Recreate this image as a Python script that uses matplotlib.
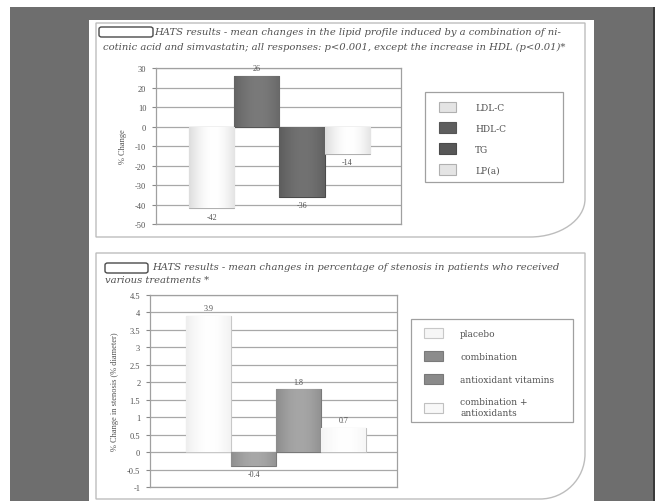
import numpy as np
import matplotlib
matplotlib.use("Agg")
import matplotlib.pyplot as plt
from matplotlib.patches import Rectangle, FancyBboxPatch, PathPatch
from matplotlib.path import Path
from matplotlib.colors import LinearSegmentedColormap

# lipid profile changes (%)
lipid_names = ["LDL-C", "HDL-C", "TG", "LP(a)"]
lipid_change = [-42, 26, -36, -14]
lipid_ticks = [30, 20, 10, 0, -10, -20, -30, -40, -50]

# stenosis changes (% diameter)
treat_names = ["placebo", "combination", "antioxidant vitamins", "combination +\nantioxidants"]
stenosis_change = [3.9, -0.4, 1.8, 0.7]
stenosis_ticks = [4.5, 4, 3.5, 3, 2.5, 2, 1.5, 1, 0.5, 0, -0.5, -1]

W, H = 661, 502
SERIF = ["Liberation Serif", "DejaVu Serif"]
plt.rcParams["font.family"] = SERIF

fig = plt.figure(figsize=(W / 100, H / 100), dpi=100)
fig.patch.set_facecolor("white")


def fx(x):
    return x / W


def fy(y):
    return 1 - y / H


def px_rect(x0, y0, x1, y1):
    return [fx(x0), fy(y1), (x1 - x0) / W, (y1 - y0) / H]


# dark scanner frame and the page
fig.add_artist(Rectangle((fx(10), 0), fx(653) - fx(10), fy(8), transform=fig.transFigure,
                         facecolor="#6e6e6e", edgecolor="none", zorder=0))
fig.add_artist(Rectangle((fx(653), 0), fx(2), fy(8), transform=fig.transFigure,
                         facecolor="#3a3a3a", edgecolor="none", zorder=0))
fig.add_artist(Rectangle((fx(89), 0), fx(594) - fx(89), fy(21), transform=fig.transFigure,
                         facecolor="white", edgecolor="none", zorder=0))


def panel(x0, y0, x1, y1, rx, ry):
    # box with only the lower right corner rounded
    k = 0.55
    verts = [(x0, y0), (x1, y0), (x1, y1 - ry),
             (x1, y1 - ry + k * ry), (x1 - rx + k * rx, y1), (x1 - rx, y1),
             (x0, y1), (x0, y0)]
    codes = [Path.MOVETO, Path.LINETO, Path.LINETO,
             Path.CURVE4, Path.CURVE4, Path.CURVE4,
             Path.LINETO, Path.CLOSEPOLY]
    verts = [(fx(a), fy(b)) for a, b in verts]
    fig.add_artist(PathPatch(Path(verts, codes), transform=fig.transFigure,
                             facecolor="none", edgecolor="#bdbdbd", lw=1.0, zorder=1))


panel(96, 24, 585, 238, 55, 38)
panel(96, 254, 585, 500, 45, 45)


def caption(bx0, bx1, by, lines, starts, ys):
    fig.add_artist(FancyBboxPatch((fx(bx0), fy(by + 5)), (bx1 - bx0) / W, 10 / H,
                                  boxstyle="round,pad=0,rounding_size=0.004",
                                  transform=fig.transFigure, facecolor="white",
                                  edgecolor="#4a4a4a", lw=1.0, zorder=2))
    for txt, x, y in zip(lines, starts, ys):
        fig.text(fx(x), fy(y), txt, fontsize=7.2, style="italic", color="#505050",
                 va="center", ha="left", family=["DejaVu Serif"])


caption(99, 153, 33,
        ["HATS results - mean changes in the lipid profile induced by a combination of ni-",
         "cotinic acid and simvastatin; all responses: p<0.001, except the increase in HDL (p<0.01)*"],
        [154, 103], [33, 47])
caption(105, 148, 269,
        ["HATS results - mean changes in percentage of stenosis in patients who received",
         "various treatments *"],
        [152, 105], [268, 281])


def shade(ax, bars, dark, light):
    cmap = LinearSegmentedColormap.from_list("cyl", [dark, light, dark])
    for b in bars:
        x0, y0 = b.get_x(), b.get_y()
        x1, y1 = x0 + b.get_width(), y0 + b.get_height()
        g = np.linspace(0, 1, 64)[None, :]
        g = 0.5 + 0.5 * np.sin(np.pi * (g * 0.9 + 0.02))
        g = np.clip(g, 0, 1) * 0.5
        im = ax.imshow(g, extent=(x0, x1, min(y0, y1), max(y0, y1)), cmap=cmap,
                       vmin=0, vmax=1, aspect="auto", zorder=2.5,
                       interpolation="bilinear")
        im.set_clip_path(b)


def bar_chart(rect, values, ticks, xlim, fills, grads, edges, ylabel, fmt, off):
    ax = fig.add_axes(rect)
    x = np.arange(len(values))
    bars = ax.bar(x, values, width=1.0, color=fills, edgecolor=edges, lw=0.8, zorder=2)
    for b, (d, l) in zip(bars, grads):
        shade(ax, [b], d, l)
    ax.set_xlim(*xlim)
    ax.set_ylim(min(ticks), max(ticks))
    ax.set_yticks(ticks)
    ax.set_yticklabels([fmt(t) for t in ticks])
    ax.set_xticks([])
    ax.yaxis.grid(True, color="#a8a8a8", lw=0.9)
    ax.set_axisbelow(True)
    for s in ax.spines.values():
        s.set_color("#a0a0a0")
        s.set_linewidth(0.9)
    ax.tick_params(axis="y", labelsize=6, colors="#8a8a8a", length=3, width=0.8,
                   labelcolor="#505050", pad=4)
    ax.set_ylabel(ylabel, fontsize=6, color="#505050", labelpad=6)
    for xi, v in zip(x, values):
        ax.annotate(fmt(v), (xi, v), xytext=(0, off if v >= 0 else -off),
                    textcoords="offset points", ha="center",
                    va="bottom" if v >= 0 else "top", fontsize=5.8, color="#505050")
    return ax, bars


def legend_box(ax, handles, labels, frame, anchor, hl, hh, ls, htp):
    x0, y0, x1, y1 = frame
    fig.add_artist(Rectangle((fx(x0), fy(y1)), (x1 - x0) / W, (y1 - y0) / H,
                             transform=fig.transFigure, facecolor="none",
                             edgecolor="#a0a0a0", lw=0.9, zorder=1.5))
    leg = ax.legend(handles, labels, loc="upper left",
                    bbox_to_anchor=(fx(anchor[0]), fy(anchor[1])),
                    bbox_transform=fig.transFigure, frameon=False,
                    prop={"family": "DejaVu Serif", "size": 6.5},
                    handlelength=hl, handleheight=hh, labelspacing=ls,
                    handletextpad=htp, borderpad=0, borderaxespad=0,
                    labelcolor="#505050")
    return leg


top_ax, top_bars = bar_chart(
    px_rect(156, 69, 401, 225), lipid_change, lipid_ticks, (-1.23, 4.19),
    ["#e4e4e4", "#5e5e5e", "#575757", "#e4e4e4"],
    [("#b8b8b8", "#ffffff"), ("#4c4c4c", "#7a7a7a"), ("#454545", "#727272"), ("#b8b8b8", "#ffffff")],
    ["#b0b0b0", "#555555", "#4a4a4a", "#b0b0b0"],
    "% Change", lambda v: "%d" % v, 3)
legend_box(top_ax, top_bars, lipid_names, (425, 93, 563, 183), (439, 102.5),
           1.9, 1.45, 1.12, 2.1)

bot_ax, bot_bars = bar_chart(
    px_rect(150, 296, 397, 488), stenosis_change, stenosis_ticks, (-1.3, 4.19),
    ["#f6f6f6", "#8c8c8c", "#8a8a8a", "#f8f8f8"],
    [("#dcdcdc", "#ffffff"), ("#727272", "#a8a8a8"), ("#707070", "#a6a6a6"), ("#e8e8e8", "#ffffff")],
    ["#c8c8c8", "#7a7a7a", "#787878", "#c0c0c0"],
    "% Change in stenosis (% diameter)", lambda v: "%g" % v, 2.5)
legend_box(bot_ax, bot_bars, treat_names, (411, 320, 573, 423), (424, 329),
           2.1, 1.33, 1.45, 1.9)

fig.savefig("out.png", dpi=100, facecolor=fig.get_facecolor())
